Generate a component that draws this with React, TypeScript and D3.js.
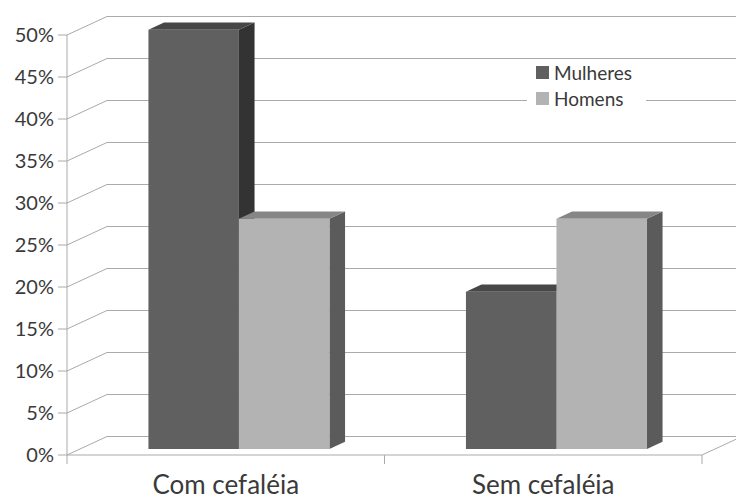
import * as d3 from 'd3';

const categories = ['Com cefaléia', 'Sem cefaléia'];
const series = ['Mulheres', 'Homens'];
const mulheres = [49.9, 18.7];
const homens = [27.4, 27.4];
const yTicks = [0, 5, 10, 15, 20, 25, 30, 35, 40, 45, 50];

const W = 736;
const H = 499;
// depth offset of the 3d box
const DX = 40;
const DY = -18.5;
const F0 = 0.33;
const F1 = 0.72;

const colors: Record<string, { front: string; top: string; side: string }> = {
  Mulheres: { front: '#606060', top: '#474747', side: '#333333' },
  Homens: { front: '#b3b3b3', top: '#868686', side: '#5b5b5b' },
};

const font = 'Lato, "Open Sans", sans-serif';
const grid = '#aaaaaa';

export default function App() {
  const y = d3.scaleLinear().domain([0, 50]).range([455, 35]);
  const x = d3.scaleBand().domain(categories).range([67, 702]).padding(0);
  const xs = d3.scaleBand().domain(series).range([0, x.bandwidth()]).paddingInner(0).paddingOuter(0.754);

  const P = (px: number, v: number, f: number) => [px + DX * f, y(v) + DY * f].join(',');
  const values: Record<string, number[]> = { Mulheres: mulheres, Homens: homens };

  const bars: JSX.Element[] = [];
  categories.forEach((c, i) => {
    series.forEach((s) => {
      const v = values[s][i];
      const x0 = (x(c) as number) + (xs(s) as number);
      const x1 = x0 + xs.bandwidth();
      const col = colors[s];
      bars.push(
        <g key={c + s}>
          <polygon points={[P(x1, 0, F0), P(x1, 0, F1), P(x1, v, F1), P(x1, v, F0)].join(' ')} fill={col.side} />
          <polygon points={[P(x0, v, F0), P(x1, v, F0), P(x1, v, F1), P(x0, v, F1)].join(' ')} fill={col.top} />
          <polygon points={[P(x0, 0, F0), P(x1, 0, F0), P(x1, v, F0), P(x0, v, F0)].join(' ')} fill={col.front} />
        </g>
      );
    });
  });

  const left = 67;
  const right = 702;

  return (
    <svg width={W} height={H} style={{ position: 'absolute', left: 0, top: 0, background: '#fff' }}>
      {/* back wall gridlines and left wall diagonals */}
      {yTicks.map((t) => (
        <g key={t}>
          <line x1={left + DX} x2={right + DX} y1={y(t) + DY} y2={y(t) + DY} stroke={grid} strokeWidth={1} />
          <line x1={left} x2={left + DX} y1={y(t)} y2={y(t) + DY} stroke={grid} strokeWidth={1} />
          <line x1={left - 9} x2={left} y1={y(t)} y2={y(t)} stroke={grid} strokeWidth={1} />
          <text x={54} y={y(t) + 7} textAnchor="end" fontFamily={font} fontSize={20} fill="#3a3a3a">
            {t}%
          </text>
        </g>
      ))}
      {/* floor */}
      <line x1={right} x2={right + DX} y1={y(0)} y2={y(0) + DY} stroke={grid} />
      <line x1={left} x2={left} y1={y(50)} y2={y(0)} stroke={grid} />
      {/* legend */}
      <rect x={527} y={62} width={119} height={48} fill="#fff" />
      {series.map((s, i) => (
        <g key={s}>
          <rect x={536} y={66 + i * 26} width={13} height={13} fill={colors[s].front} />
          <text x={554} y={80 + i * 26} fontFamily={font} fontSize={19} fill="#3a3a3a">
            {s}
          </text>
        </g>
      ))}
      {bars}
      <line x1={left} x2={right} y1={y(0)} y2={y(0)} stroke={grid} />
      {[left, ...categories.map((c) => (x(c) as number) + x.bandwidth())].map((t) => (
        <line key={t} x1={t} x2={t} y1={y(0)} y2={y(0) + 9} stroke={grid} />
      ))}
      {categories.map((c) => (
        <text key={c} x={(x(c) as number) + x.bandwidth() / 2} y={494} textAnchor="middle" fontFamily={font} fontSize={26} fill="#3a3a3a">
          {c}
        </text>
      ))}
    </svg>
  );
}
